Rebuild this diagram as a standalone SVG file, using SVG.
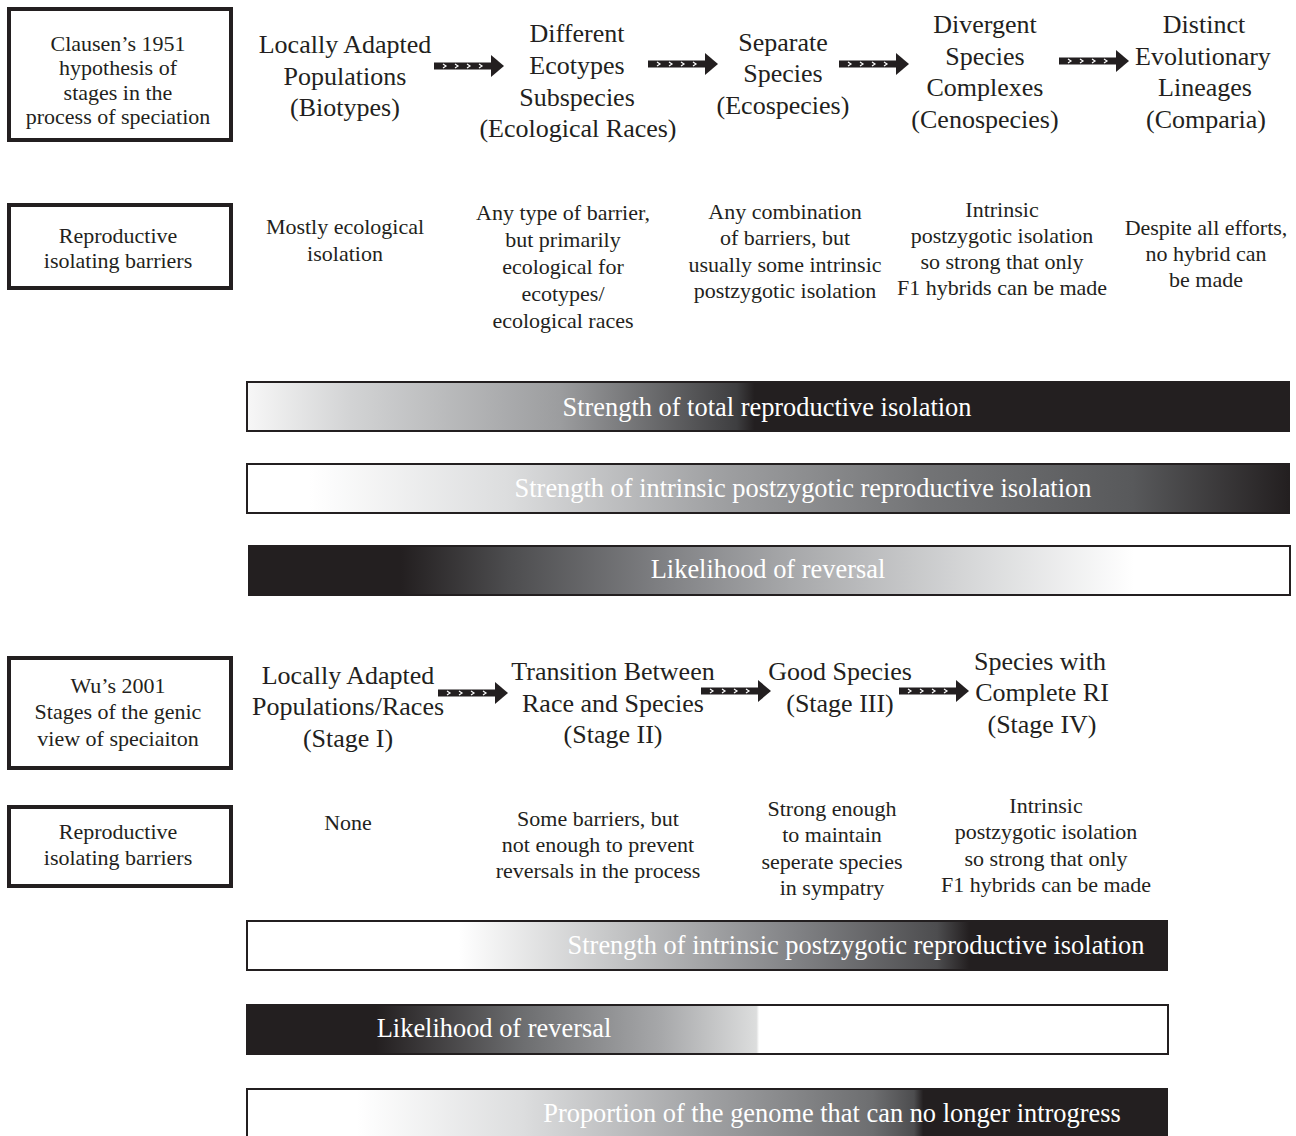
<svg xmlns="http://www.w3.org/2000/svg" width="1296" height="1136" viewBox="0 0 1296 1136">
<style>
text{font-family:"Liberation Serif","Times New Roman",serif;fill:#231f20;text-anchor:middle}
.box{fill:#fff;stroke:#231f20;stroke-width:4}
.bt{font-size:22px}
.tt{font-size:26px}
.rt{font-size:22px}
.bar{stroke:#231f20;stroke-width:2}
.bl{font-size:26.4px;fill:#fff}
</style>
<defs>
<symbol id="arr" viewBox="0 0 70 24" width="70" height="24" overflow="visible">
<rect x="0" y="8.5" width="58" height="7" fill="#231f20"/>
<polygon points="57,1 70,12 57,23" fill="#231f20"/>
<path d="M9,10 L12,12 L9,14 M21,10 L24,12 L21,14 M33,10 L36,12 L33,14 M45,10 L48,12 L45,14" fill="none" stroke="#fff" stroke-width="1.2"/>
</symbol>
<linearGradient id="g1" x1="0" x2="1" y1="0" y2="0">
<stop offset="0" stop-color="#f7f7f7"/><stop offset="0.1" stop-color="#d2d3d4"/><stop offset="0.3" stop-color="#9c9d9f"/><stop offset="0.47" stop-color="#3e3e40"/><stop offset="0.487" stop-color="#231f20"/><stop offset="1" stop-color="#231f20"/>
</linearGradient>
<linearGradient id="g2" x1="0" x2="1" y1="0" y2="0">
<stop offset="0" stop-color="#fff"/><stop offset="0.06" stop-color="#fff"/><stop offset="0.25" stop-color="#dcddde"/><stop offset="0.45" stop-color="#a0a1a3"/><stop offset="0.65" stop-color="#737476"/><stop offset="0.85" stop-color="#58595b"/><stop offset="1" stop-color="#231f20"/>
</linearGradient>
<linearGradient id="g3" x1="0" x2="1" y1="0" y2="0">
<stop offset="0" stop-color="#231f20"/><stop offset="0.146" stop-color="#231f20"/><stop offset="0.25" stop-color="#4d4d4f"/><stop offset="0.4" stop-color="#808184"/><stop offset="0.52" stop-color="#a7a8aa"/><stop offset="0.7" stop-color="#d8d9da"/><stop offset="0.85" stop-color="#fff"/><stop offset="1" stop-color="#fff"/>
</linearGradient>
<linearGradient id="g4" x1="0" x2="1" y1="0" y2="0">
<stop offset="0" stop-color="#fff"/><stop offset="0.23" stop-color="#fff"/><stop offset="0.4" stop-color="#c4c5c6"/><stop offset="0.6" stop-color="#808184"/><stop offset="0.75" stop-color="#4d4d4f"/><stop offset="0.785" stop-color="#231f20"/><stop offset="1" stop-color="#231f20"/>
</linearGradient>
<linearGradient id="g5" x1="0" x2="1" y1="0" y2="0">
<stop offset="0" stop-color="#231f20"/><stop offset="0.14" stop-color="#231f20"/><stop offset="0.3" stop-color="#6d6e70"/><stop offset="0.45" stop-color="#a7a8aa"/><stop offset="0.553" stop-color="#dcdddd"/><stop offset="0.556" stop-color="#fff"/><stop offset="1" stop-color="#fff"/>
</linearGradient>
<linearGradient id="g6" x1="0" x2="1" y1="0" y2="0">
<stop offset="0" stop-color="#fff"/><stop offset="0.12" stop-color="#fff"/><stop offset="0.3" stop-color="#dcddde"/><stop offset="0.5" stop-color="#a0a1a3"/><stop offset="0.68" stop-color="#6d6e70"/><stop offset="0.725" stop-color="#4d4d4f"/><stop offset="0.735" stop-color="#231f20"/><stop offset="1" stop-color="#231f20"/>
</linearGradient>
</defs>
<rect width="1296" height="1136" fill="#fff"/>

<!-- Clausen section -->
<g id="clausen-box">
<rect class="box" x="9" y="9" width="222" height="131"/>
<text class="bt" x="118" y="51">Clausen’s 1951</text>
<text class="bt" x="118" y="75">hypothesis of</text>
<text class="bt" x="118" y="100">stages in the</text>
<text class="bt" x="118" y="124">process of speciation</text>
</g>
<g id="c-stage1">
<text class="tt" x="345" y="53">Locally Adapted</text>
<text class="tt" x="345" y="85">Populations</text>
<text class="tt" x="345" y="116">(Biotypes)</text>
</g>
<g id="c-stage2">
<text class="tt" x="577" y="42">Different</text>
<text class="tt" x="577" y="74">Ecotypes</text>
<text class="tt" x="577" y="106">Subspecies</text>
<text class="tt" x="578" y="137">(Ecological Races)</text>
</g>
<g id="c-stage3">
<text class="tt" x="783" y="51">Separate</text>
<text class="tt" x="783" y="82">Species</text>
<text class="tt" x="783" y="114">(Ecospecies)</text>
</g>
<g id="c-stage4">
<text class="tt" x="985" y="33">Divergent</text>
<text class="tt" x="985" y="65">Species</text>
<text class="tt" x="985" y="96">Complexes</text>
<text class="tt" x="985" y="128">(Cenospecies)</text>
</g>
<g id="c-stage5">
<text class="tt" x="1204" y="33">Distinct</text>
<text class="tt" x="1203" y="65">Evolutionary</text>
<text class="tt" x="1205" y="96">Lineages</text>
<text class="tt" x="1206" y="128">(Comparia)</text>
</g>
<g id="c-barriers-box">
<rect class="box" x="9" y="205" width="222" height="83"/>
<text class="bt" x="118" y="243">Reproductive</text>
<text class="bt" x="118" y="268">isolating barriers</text>
</g>
<g id="c-bar1">
<text class="rt" x="345" y="234">Mostly ecological</text>
<text class="rt" x="345" y="261">isolation</text>
</g>
<g id="c-bar2">
<text class="rt" x="563" y="220">Any type of barrier,</text>
<text class="rt" x="563" y="247">but primarily</text>
<text class="rt" x="563" y="274">ecological for</text>
<text class="rt" x="563" y="301">ecotypes/</text>
<text class="rt" x="563" y="328">ecological races</text>
</g>
<g id="c-bar3">
<text class="rt" x="785" y="219">Any combination</text>
<text class="rt" x="785" y="245">of barriers, but</text>
<text class="rt" x="785" y="272">usually some intrinsic</text>
<text class="rt" x="785" y="298">postzygotic isolation</text>
</g>
<g id="c-bar4">
<text class="rt" x="1002" y="217">Intrinsic</text>
<text class="rt" x="1002" y="243">postzygotic isolation</text>
<text class="rt" x="1002" y="269">so strong that only</text>
<text class="rt" x="1002" y="295">F1 hybrids can be made</text>
</g>
<g id="c-bar5">
<text class="rt" x="1206" y="235">Despite all efforts,</text>
<text class="rt" x="1206" y="261">no hybrid can</text>
<text class="rt" x="1206" y="287">be made</text>
</g>
<g id="c-total-ri">
<rect class="bar" x="247" y="382" width="1042" height="49" fill="url(#g1)"/>
<text class="bl" x="767" y="416">Strength of total reproductive isolation</text>
</g>
<g id="c-intrinsic">
<rect class="bar" x="247" y="464" width="1042" height="49" fill="url(#g2)"/>
<text class="bl" x="803" y="497">Strength of intrinsic postzygotic reproductive isolation</text>
</g>
<g id="c-reversal">
<rect class="bar" x="249" y="546" width="1041" height="49" fill="url(#g3)"/>
<text class="bl" x="768" y="578">Likelihood of reversal</text>
</g>

<!-- Wu section -->
<g id="wu-box">
<rect class="box" x="9" y="658" width="222" height="110"/>
<text class="bt" x="118" y="693">Wu’s 2001</text>
<text class="bt" x="118" y="719">Stages of the genic</text>
<text class="bt" x="118" y="746">view of speciaiton</text>
</g>
<g id="w-stage1">
<text class="tt" x="348" y="684">Locally Adapted</text>
<text class="tt" x="348" y="715">Populations/Races</text>
<text class="tt" x="348" y="747">(Stage I)</text>
</g>
<g id="w-stage2">
<text class="tt" x="613" y="680">Transition Between</text>
<text class="tt" x="613" y="712">Race and Species</text>
<text class="tt" x="613" y="743">(Stage II)</text>
</g>
<g id="w-stage3">
<text class="tt" x="840" y="680">Good Species</text>
<text class="tt" x="840" y="712">(Stage III)</text>
</g>
<g id="w-stage4">
<text class="tt" x="1040" y="670">Species with</text>
<text class="tt" x="1042" y="701">Complete RI</text>
<text class="tt" x="1042" y="733">(Stage IV)</text>
</g>
<g id="w-barriers-box">
<rect class="box" x="9" y="807" width="222" height="79"/>
<text class="bt" x="118" y="839">Reproductive</text>
<text class="bt" x="118" y="865">isolating barriers</text>
</g>
<g id="w-bar1">
<text class="rt" x="348" y="830">None</text>
</g>
<g id="w-bar2">
<text class="rt" x="598" y="826">Some barriers, but</text>
<text class="rt" x="598" y="852">not enough to prevent</text>
<text class="rt" x="598" y="878">reversals in the process</text>
</g>
<g id="w-bar3">
<text class="rt" x="832" y="816">Strong enough</text>
<text class="rt" x="832" y="842">to maintain</text>
<text class="rt" x="832" y="869">seperate species</text>
<text class="rt" x="832" y="895">in sympatry</text>
</g>
<g id="w-bar4">
<text class="rt" x="1046" y="813">Intrinsic</text>
<text class="rt" x="1046" y="839">postzygotic isolation</text>
<text class="rt" x="1046" y="866">so strong that only</text>
<text class="rt" x="1046" y="892">F1 hybrids can be made</text>
</g>
<g id="w-intrinsic">
<rect class="bar" x="247" y="921" width="920" height="49" fill="url(#g4)"/>
<text class="bl" x="856" y="954">Strength of intrinsic postzygotic reproductive isolation</text>
</g>
<g id="w-reversal">
<rect class="bar" x="247" y="1005" width="921" height="49" fill="url(#g5)"/>
<text class="bl" x="494" y="1037">Likelihood of reversal</text>
</g>
<g id="w-genome">
<rect class="bar" x="247" y="1089" width="920" height="52" fill="url(#g6)"/>
<text class="bl" x="832" y="1122">Proportion of the genome that can no longer introgress</text>
</g>

<g id="connectors">
<use href="#arr" x="434" y="54"/>
<use href="#arr" x="648" y="52"/>
<use href="#arr" x="839" y="52"/>
<use href="#arr" x="1059" y="49"/>
<use href="#arr" x="438" y="681"/>
<use href="#arr" x="701" y="679"/>
<use href="#arr" x="899" y="679"/>
</g>
</svg>
